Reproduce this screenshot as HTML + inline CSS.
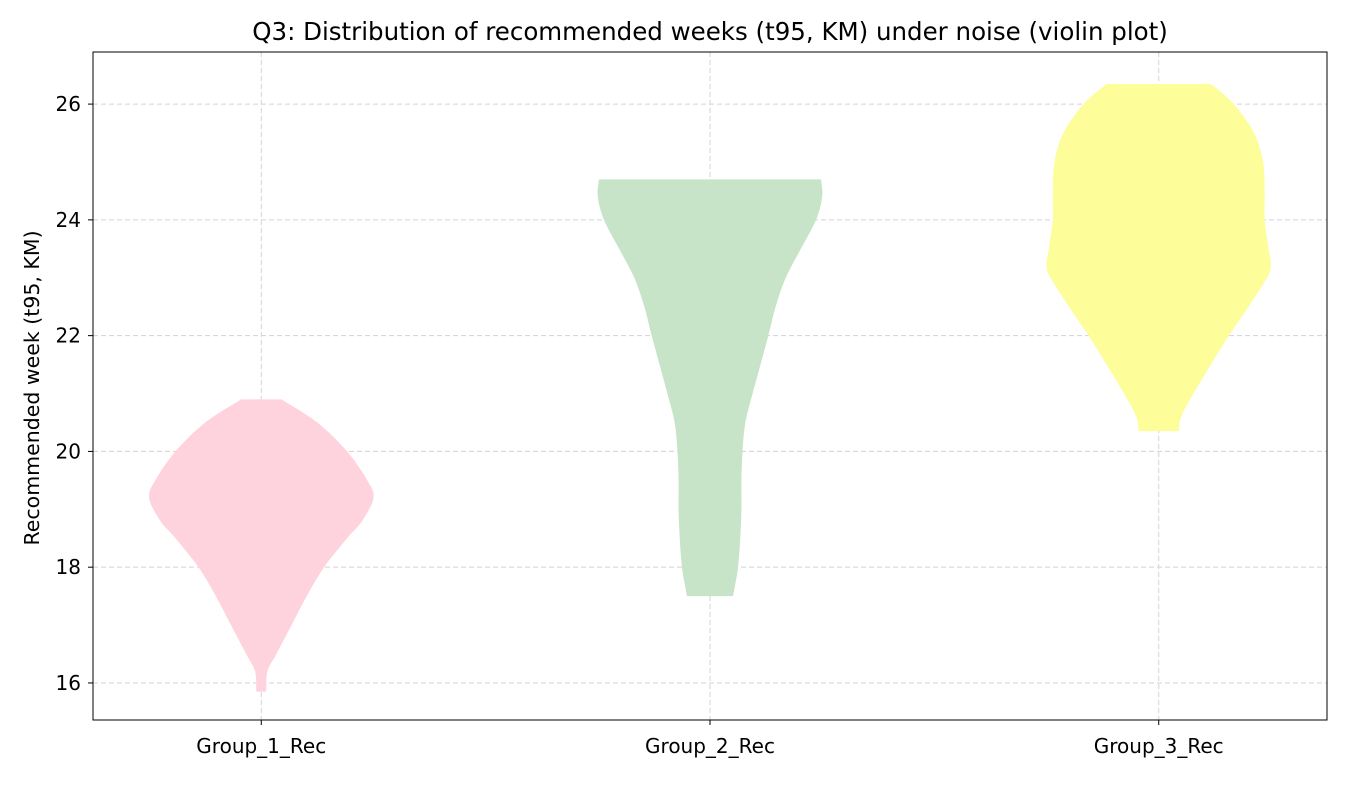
<!DOCTYPE html>
<html><head><meta charset="utf-8"><style>
body{margin:0;background:#fff;font-family:"Liberation Sans","DejaVu Sans",sans-serif;}
svg text{font-family:"DejaVu Sans","Liberation Sans",sans-serif;}
</style></head><body>
<svg id="chart" width="1350" height="780" viewBox="0 0 1350 780" xmlns="http://www.w3.org/2000/svg">
<rect width="1350" height="780" fill="#fff"/>
<text x="710" y="40" text-anchor="middle" font-size="24.5" fill="#000">Q3: Distribution of recommended weeks (t95, KM) under noise (violin plot)</text>
<text transform="translate(39,388) rotate(-90)" text-anchor="middle" font-size="20.5" fill="#000">Recommended week (t95, KM)</text>
<g id="grid"></g><g id="violins"></g><g id="axes"></g>
</svg>
<script>
const categories=["Group_1_Rec","Group_2_Rec","Group_3_Rec"];
const colors=["#ffd3dd","#c8e4c8","#fdfd9a"];
const yTicks=[16,18,20,22,24,26];
const g1Vals=[15.85,16.2,16.5,17.0,17.5,18.0,18.5,18.8,19.2,19.5,20.0,20.5,20.9];
const g1Dens=[0.045,0.055,0.135,0.27,0.405,0.56,0.765,0.9,1.0,0.945,0.765,0.5,0.18];
const g2Vals=[17.5,17.7,18.0,18.5,19.0,19.5,20.0,20.5,21.0,21.5,22.0,22.5,23.0,23.5,24.0,24.4,24.7];
const g2Dens=[0.205,0.225,0.25,0.27,0.28,0.28,0.29,0.315,0.38,0.45,0.52,0.585,0.675,0.81,0.945,1.0,0.99];
const g3Vals=[20.35,20.6,21.0,21.5,22.0,22.5,23.0,23.2,23.5,24.0,24.5,25.0,25.5,26.0,26.35];
const g3Dens=[0.18,0.2,0.31,0.465,0.625,0.8,0.965,1.0,0.98,0.945,0.945,0.93,0.85,0.67,0.465];
const groupVals=[g1Vals,g2Vals,g3Vals];
const groupDens=[g1Dens,g2Dens,g3Dens];

const L=93,R=1327,T=52,B=720;
const xMin=0.625,xMax=3.375,yMin=15.36,yMax=26.9;
const xS=v=>L+(v-xMin)/(xMax-xMin)*(R-L);
const yS=v=>B-(v-yMin)/(yMax-yMin)*(B-T);
const NS="http://www.w3.org/2000/svg";
function mk(tag,attrs,parent){const e=document.createElementNS(NS,tag);for(const k in attrs)e.setAttribute(k,attrs[k]);parent.appendChild(e);return e;}
function smooth(pts){
  let d='M'+pts[0][0]+','+pts[0][1];
  for(let i=0;i<pts.length-1;i++){
    const p0=pts[Math.max(0,i-1)],p1=pts[i],p2=pts[i+1],p3=pts[Math.min(pts.length-1,i+2)];
    const c1=[p1[0]+(p2[0]-p0[0])/6,p1[1]+(p2[1]-p0[1])/6];
    const c2=[p2[0]-(p3[0]-p1[0])/6,p2[1]-(p3[1]-p1[1])/6];
    d+=' C'+c1[0]+','+c1[1]+' '+c2[0]+','+c2[1]+' '+p2[0]+','+p2[1];
  }
  return d;
}
const grid=document.getElementById('grid'),vg=document.getElementById('violins'),ax=document.getElementById('axes');

yTicks.forEach(t=>{
  const l=mk('line',{x1:L,x2:R,y1:yS(t),y2:yS(t),stroke:'#d3d3d3','stroke-dasharray':'5,3','stroke-width':1},grid);
  
  
  const tk=mk('line',{x1:L-5,x2:L,y1:yS(t),y2:yS(t),stroke:'#000'},ax);
  
  
  const tx=mk('text',{x:L-12,y:yS(t)+7,'text-anchor':'end','font-size':'20',fill:'#000'},ax);
  tx.textContent=t;
  
  
});
categories.forEach((c,i)=>{
  const x=xS(i+1);
  const l=mk('line',{x1:x,x2:x,y1:T,y2:B,stroke:'#d3d3d3','stroke-dasharray':'5,3','stroke-width':1},grid);
  
  
  const tk=mk('line',{x1:x,x2:x,y1:B,y2:B+5,stroke:'#000'},ax);
  
  
  const tx=mk('text',{x:x,y:B+33,'text-anchor':'middle','font-size':'20',fill:'#000'},ax);
  tx.textContent=c;
  
  
  const vals=groupVals[i],dens=groupDens[i];
  const right=vals.map((v,j)=>[xS(i+1+dens[j]*0.25),yS(v)]);
  const left=vals.map((v,j)=>[xS(i+1-dens[j]*0.25),yS(v)]).reverse();
  const d=smooth(right)+' L'+left[0][0]+','+left[0][1]+' '+smooth(left).slice(1)+' Z';
  const p=mk('path',{d:d,fill:colors[i],stroke:'none'},vg);
  
  
});
const frame=mk('rect',{x:L,y:T,width:R-L,height:B-T,fill:'none',stroke:'#000','stroke-width':1},ax);


</script>
</body></html>
